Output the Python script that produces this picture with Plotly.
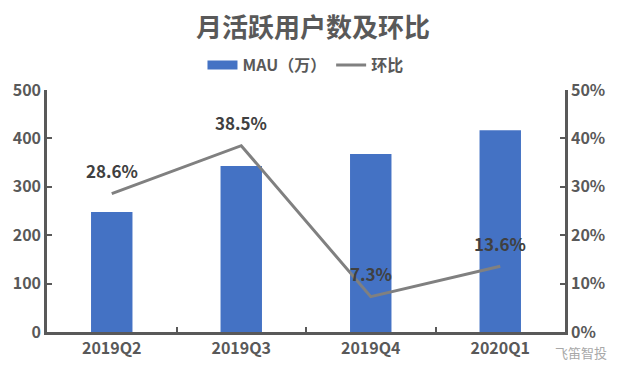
import plotly.graph_objects as go

categories = ["2019Q2", "2019Q3", "2019Q4", "2020Q1"]
mau = [248, 343, 368, 417]
mom = [0.286, 0.385, 0.073, 0.136]
mom_labels = ["28.6%", "38.5%", "7.3%", "13.6%"]

FONT = "Noto Sans CJK SC"
AX = "#595959"
BLUE = "#4472C4"
GREY = "#808080"

# page body has an 8px margin; figure is sized so that the visible page matches
W, H = 618, 367

fig = go.Figure()
fig.add_trace(go.Bar(
    x=categories, y=mau, name="MAU（万）", showlegend=False,
    marker=dict(color=BLUE, line=dict(width=0)), yaxis="y",
))
fig.add_trace(go.Scatter(
    x=categories, y=mom, name="环比", mode="lines", showlegend=False,
    line=dict(color=GREY, width=3), yaxis="y2",
))
# legend entries (wide swatches as in the reference)
fig.add_trace(go.Scatter(
    x=[None], y=[None], name="MAU（万）", mode="lines",
    line=dict(color=BLUE, width=9), yaxis="y",
))
fig.add_trace(go.Scatter(
    x=[None], y=[None], name="环比", mode="lines",
    line=dict(color=GREY, width=3), yaxis="y2",
))

for c, v, t in zip(categories, mom, mom_labels):
    fig.add_annotation(
        x=c, y=v, xref="x", yref="y2", text=t, showarrow=False,
        yshift=23, xanchor="center", yanchor="middle",
        font=dict(family=FONT, size=17, color="#404040", weight="bold"),
    )

fig.add_annotation(
    text="飞笛智投", xref="paper", yref="paper", x=1.031, y=-0.086,
    xanchor="center", yanchor="middle", showarrow=False,
    font=dict(family=FONT, size=13, color="#a8a8a8"),
)

fig.update_layout(
    width=W, height=H,
    margin=dict(l=39, r=61, t=82, b=43, autoexpand=False),
    paper_bgcolor="white", plot_bgcolor="white",
    bargap=0.68,
    title=dict(
        text="<b>月活跃用户数及环比</b>", x=305 / W, xanchor="center",
        y=1 - 20 / H, yanchor="middle", yref="container",
        font=dict(family=FONT, size=26, color=AX),
    ),
    legend=dict(
        orientation="h", x=0.499, xanchor="center", y=1.103, yanchor="middle",
        font=dict(family=FONT, size=16, color=AX, weight="bold"),
        bgcolor="rgba(0,0,0,0)", itemwidth=30,
    ),
    xaxis=dict(
        showline=True, linecolor=AX, linewidth=2.5,
        ticks="inside", tickson="boundaries", ticklen=5, tickwidth=2, tickcolor=AX,
        tickfont=dict(family=FONT, size=16, color=AX, weight="bold"),
        showgrid=False, zeroline=False, automargin=False,
    ),
    yaxis=dict(
        range=[0, 500], dtick=100,
        showline=True, linecolor=AX, linewidth=2.5,
        ticks="inside", ticklen=5, tickwidth=2, tickcolor=AX,
        tickfont=dict(family=FONT, size=16, color=AX, weight="bold"),
        showgrid=False, zeroline=False, automargin=False,
    ),
    yaxis2=dict(
        range=[0, 0.5], dtick=0.1, tickformat=".0%",
        overlaying="y", side="right",
        showline=True, linecolor=AX, linewidth=2.5,
        ticks="inside", ticklen=5, tickwidth=2, tickcolor=AX,
        tickfont=dict(family=FONT, size=16, color=AX, weight="bold"),
        showgrid=False, zeroline=False, automargin=False,
    ),
)

fig.write_html("out.html")
